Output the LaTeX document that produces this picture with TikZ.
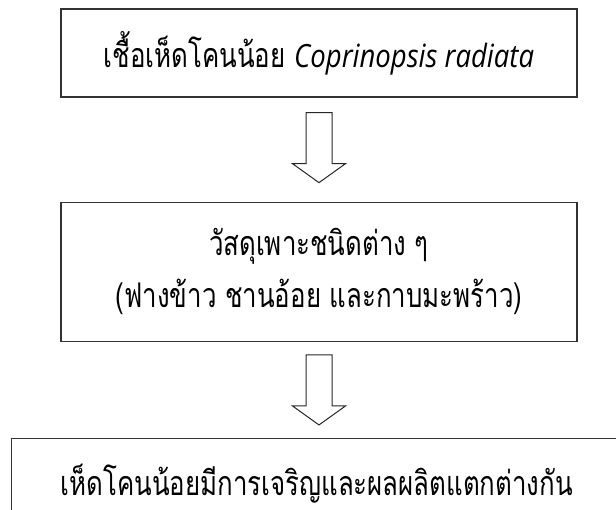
\documentclass[tikz,border=0pt]{standalone}
\usepackage{fontspec}
\newfontfamily\thaifont[Script=Thai,FakeStretch=0.76]{Loma}
\newfontfamily\latinfont[FakeStretch=0.86]{Open Sans}
\usetikzlibrary{positioning}
\tikzstyle{stageBox} = [rectangle, draw=black!80, line width=1.3pt, text centered, inner sep=0pt, minimum width=516pt]
\tikzset{
  downArrow/.pic={
    \draw[black!85, line width=1pt, line join=miter]
      (-13pt,0) -- (-13pt,-51pt) -- (-26.5pt,-51pt) -- (0,-70pt)
      -- (26.5pt,-51pt) -- (13pt,-51pt) -- (13pt,0) -- cycle;
  }
}
\newcommand{\sci}[1]{{\latinfont\itshape\fontsize{32}{52}\selectfont #1}}

\begin{document}
\begin{tikzpicture}[x=1pt,y=1pt,font=\thaifont\fontsize{34}{52}\selectfont]
		\useasboundingbox (0,0) rectangle (616,-510);
		\node [stageBox,minimum height=88pt](b1) at (319,-53){เชื้อเห็ดโคนน้อย \sci{Coprinopsis radiata}};
		\node [stageBox,minimum height=139pt,below=104pt of b1.south,anchor=north,align=center](b2){วัสดุเพาะชนิดต่าง ๆ\\(ฟางข้าว ชานอ้อย และกาบมะพร้าว)};
		\node [stageBox,minimum width=660pt,minimum height=90pt,anchor=north west,align=left,text width=562pt,inner xsep=49pt] (b3) at (11,-438){เห็ดโคนน้อยมีการเจริญและผลผลิตแตกต่างกัน};
		%	arrows between the stages
		\coordinate [below=15pt of b1.south](a1);
		\coordinate [below=13pt of b2.south](a2);
		\pic at (a1) {downArrow};
		\pic at (a2) {downArrow};
		\end{tikzpicture}
\end{document}
